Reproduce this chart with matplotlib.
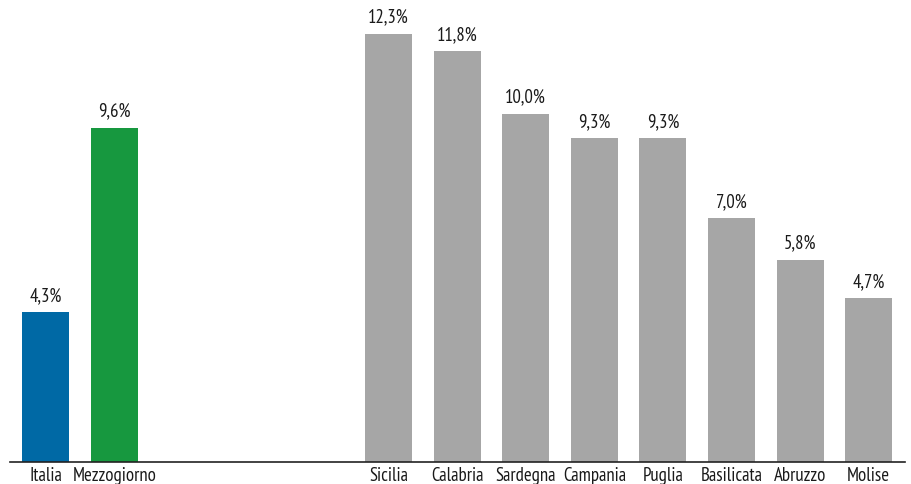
import matplotlib
matplotlib.use("Agg")
import matplotlib.pyplot as plt

# regioni del Mezzogiorno, valori in %
categories = ["Italia", "Mezzogiorno", "Sicilia", "Calabria", "Sardegna",
              "Campania", "Puglia", "Basilicata", "Abruzzo", "Molise"]
values = [4.3, 9.6, 12.3, 11.8, 10.0, 9.3, 9.3, 7.0, 5.8, 4.7]
positions = [0, 1, 5, 6, 7, 8, 9, 10, 11, 12]
colors = ["#0069a5", "#17983f"] + ["#a6a6a6"] * 8

plt.rcParams["font.family"] = ["PT Sans Narrow", "DejaVu Sans"]

fig = plt.figure(figsize=(9.11, 4.84), dpi=100)
ax = fig.add_axes([10 / 911, 22 / 484, 895 / 911, 462 / 484])

bars = ax.bar(positions, values, width=0.685, color=colors)
for b, v in zip(bars, values):
    ax.text(b.get_x() + b.get_width() / 2, v + 0.22, f"{v:.1f}%".replace(".", ","),
            ha="center", va="bottom", fontsize=13.5, color="#1a1a1a")

ax.set_xlim(-0.52, 12.53)
ax.set_ylim(0, 13.28)
ax.set_xticks(positions)
ax.set_xticklabels(categories, fontsize=13.5, color="#1a1a1a")
ax.tick_params(axis="x", length=0, pad=3.8)
ax.set_yticks([])
for s in ["top", "right", "left"]:
    ax.spines[s].set_visible(False)
ax.spines["bottom"].set_color("#222222")
ax.spines["bottom"].set_linewidth(1.2)

fig.savefig("out.png", dpi=100)
